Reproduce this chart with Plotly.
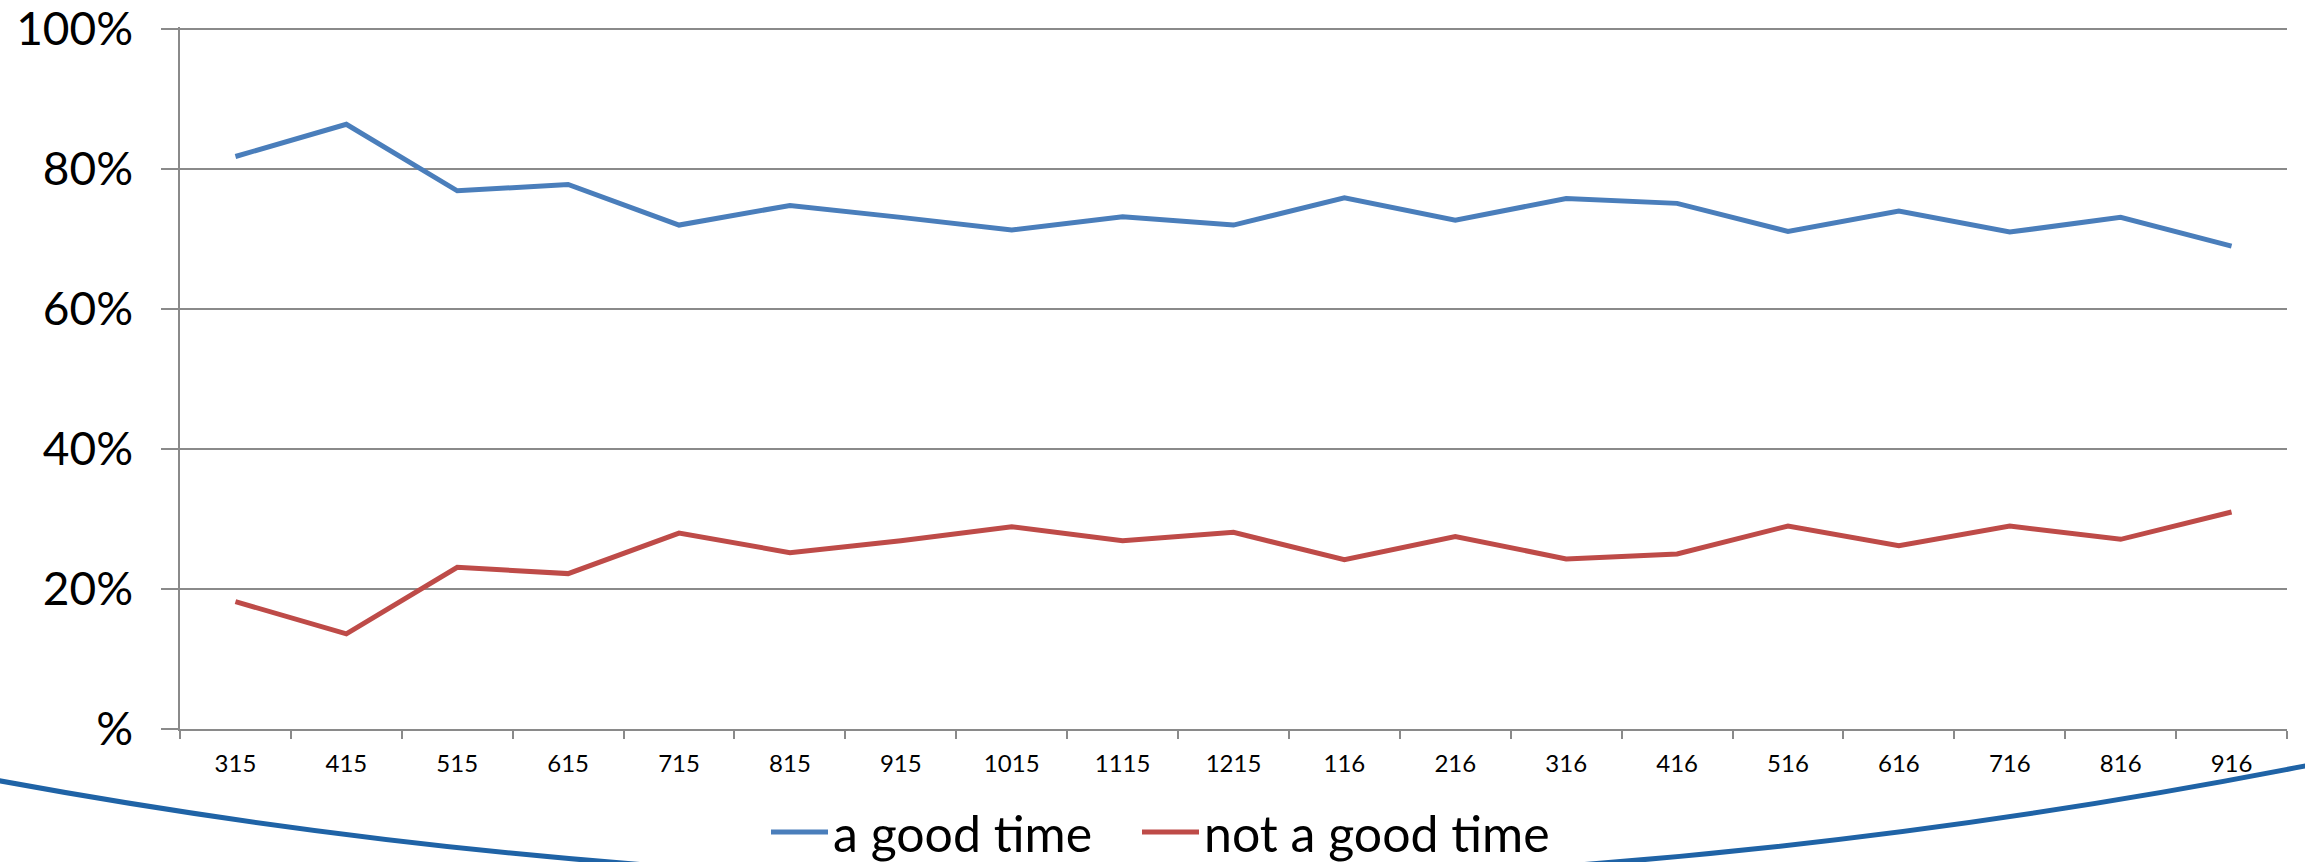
import plotly.graph_objects as go

# Survey waves (month + year codes) and share of answers per wave
waves = ["315", "415", "515", "615", "715", "815", "915", "1015", "1115", "1215",
         "116", "216", "316", "416", "516", "616", "716", "816", "916"]
good_time = [0.818, 0.864, 0.769, 0.778, 0.720, 0.748, 0.731, 0.713, 0.732, 0.720,
             0.759, 0.727, 0.758, 0.751, 0.711, 0.740, 0.710, 0.731, 0.690]
not_good_time = [0.182, 0.136, 0.231, 0.222, 0.280, 0.252, 0.269, 0.289, 0.269, 0.281,
                 0.242, 0.275, 0.243, 0.250, 0.290, 0.262, 0.290, 0.271, 0.310]

y_ticks = [0, 0.2, 0.4, 0.6, 0.8, 1.0]
y_tick_text = ["%", "20%", "40%", "60%", "80%", "100%"]

W, H = 2305, 862
M_L, M_R, M_T, M_B = 180, 18, 27, 133
Y_TOP = 1.003  # a hair above 100% so the top gridline is drawn
GRID = "#8a8a8a"
FONT = "Lato, 'Open Sans', 'DejaVu Sans', sans-serif"


def to_paper(px, py):
    """Convert page pixels to paper coordinates of the plot area."""
    pw = W - M_L - M_R
    ph = H - M_T - M_B
    return (px - M_L) / pw, (H - M_B - py) / ph


fig = go.Figure()
fig.add_trace(go.Scatter(x=waves, y=good_time, mode="lines", name="a good time",
                         line=dict(color="#4A7EBB", width=5), legend="legend"))
fig.add_trace(go.Scatter(x=waves, y=not_good_time, mode="lines", name="not a good time",
                         line=dict(color="#BE4B48", width=5), legend="legend2"))

# Decorative swoosh running under the chart
x0, y0 = to_paper(-10, 779)
xc, yc = to_paper(1150, 994)
x1, y1 = to_paper(2315, 764)
fig.add_shape(type="path", xref="paper", yref="paper", layer="above",
              path=f"M {x0},{y0} Q {xc},{yc} {x1},{y1}",
              line=dict(color="#1F63A6", width=5))

leg_common = dict(orientation="h", xanchor="left", yanchor="middle",
                  font=dict(size=50, family=FONT, color="black"),
                  itemwidth=57, bgcolor="rgba(0,0,0,0)", borderwidth=0)
lx1, ly = to_paper(766, 832)
lx2, _ = to_paper(1137, 832)

fig.update_layout(
    width=W, height=H,
    margin=dict(l=M_L, r=M_R, t=M_T, b=M_B, pad=0, autoexpand=False),
    paper_bgcolor="white", plot_bgcolor="white",
    font=dict(family=FONT, color="black"),
    showlegend=True,
    legend=dict(x=lx1, y=ly, **leg_common),
    legend2=dict(x=lx2, y=ly, **leg_common),
)

fig.update_xaxes(type="category", range=[-0.5, len(waves) - 0.5],
                 tickson="boundaries", ticks="outside", ticklen=8, tickwidth=1.5,
                 tickcolor=GRID, showline=True, linecolor=GRID, linewidth=1.5,
                 showgrid=False, zeroline=False,
                 tickfont=dict(size=24, family=FONT, color="black"),
                 ticklabelstandoff=12)

fig.update_yaxes(range=[0, Y_TOP], tickvals=y_ticks, ticktext=y_tick_text,
                 ticks="outside", ticklen=17, tickwidth=1.5, tickcolor=GRID,
                 showline=True, linecolor=GRID, linewidth=1.5,
                 showgrid=True, gridcolor=GRID, gridwidth=1.5, zeroline=False,
                 tickfont=dict(size=46, family=FONT, color="black"),
                 ticklabelstandoff=19, ticklabeloverflow="allow")

fig.write_html("out.html")
